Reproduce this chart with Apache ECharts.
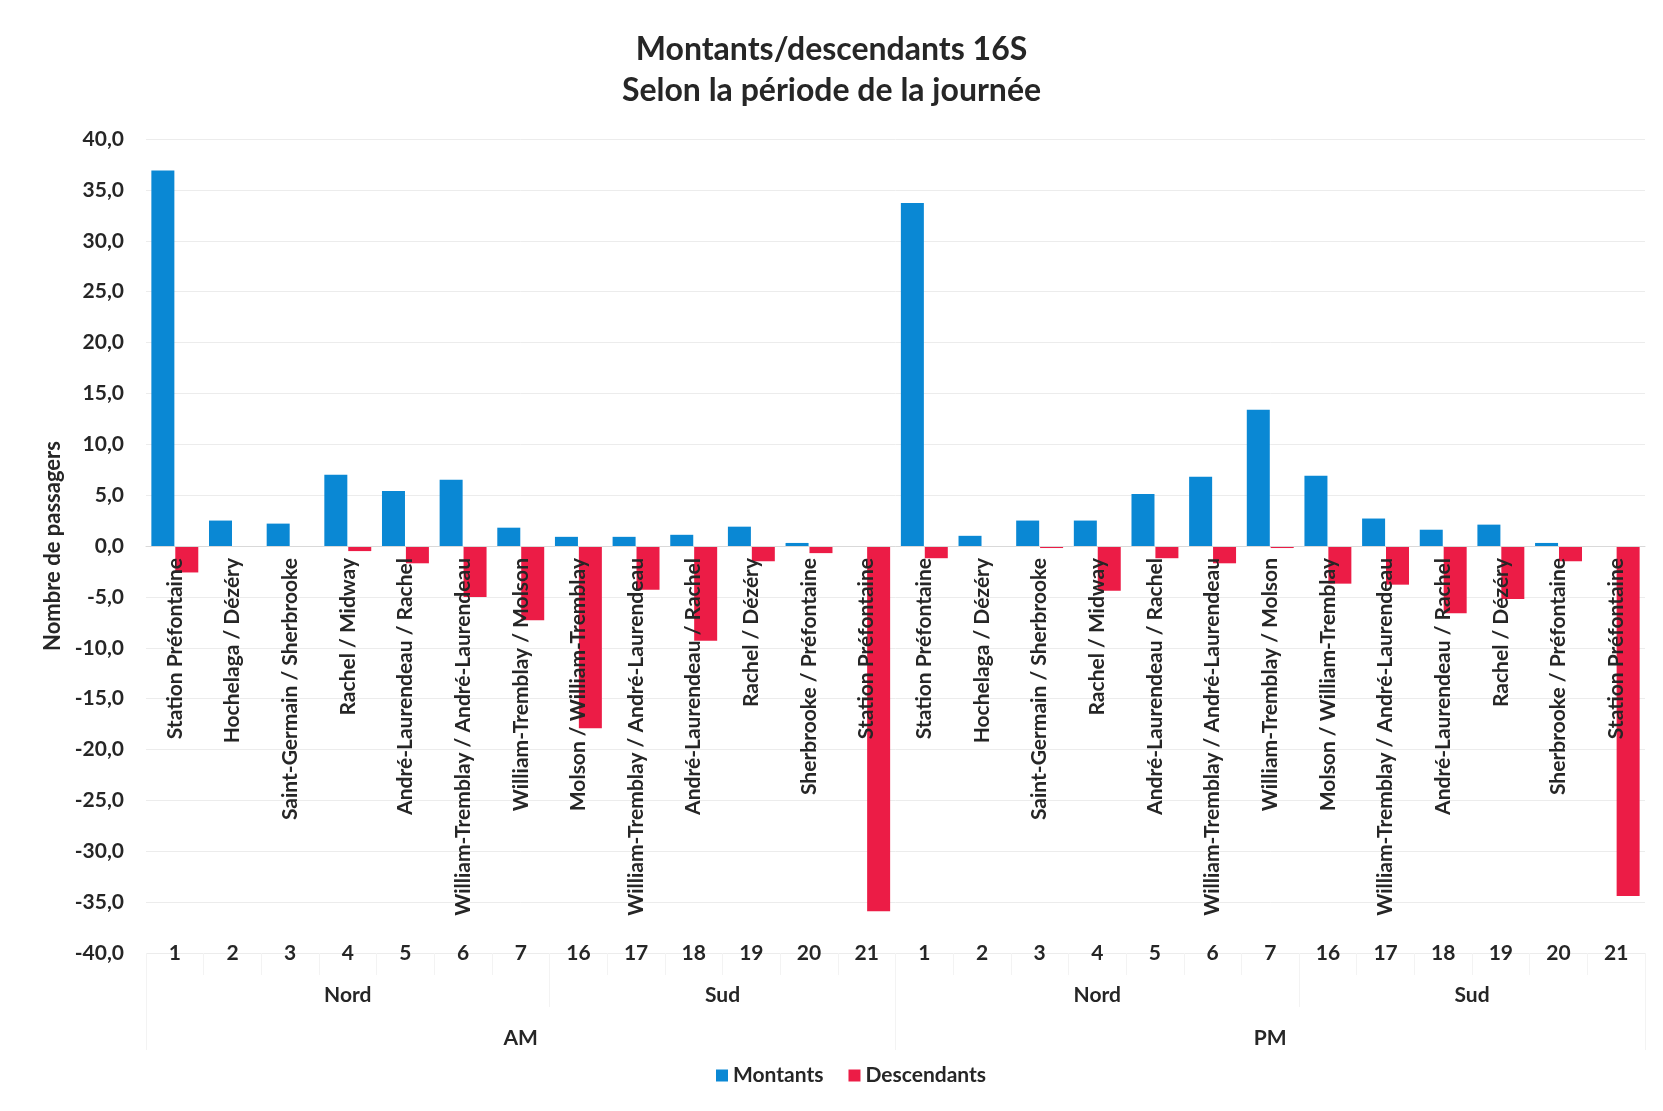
<!DOCTYPE html>
<html lang="fr">
<head>
    <meta charset="UTF-8">
    <title>Montants/descendants 16S</title>
    <script src="https://cdn.jsdelivr.net/npm/echarts@6/dist/echarts.min.js"></script>
    <style>
        body { margin: 0; background: #fff; }
    </style>
</head>
<body>
    <div id="chart_div" style="width: 1663px; height: 1111px;"></div>
</body>
    <script type="text/javascript">

       // arrets (niveau 1), numeros (niveau 2), direction (niveau 3), periode (niveau 4)
       var arrets = [
           'Station Préfontaine', 'Hochelaga / Dézéry', 'Saint-Germain / Sherbrooke', 'Rachel / Midway',
           'André-Laurendeau / Rachel', 'William-Tremblay / André-Laurendeau', 'William-Tremblay / Molson',
           'Molson / William-Tremblay', 'William-Tremblay / André-Laurendeau', 'André-Laurendeau / Rachel',
           'Rachel / Dézéry', 'Sherbrooke / Préfontaine', 'Station Préfontaine',
           'Station Préfontaine', 'Hochelaga / Dézéry', 'Saint-Germain / Sherbrooke', 'Rachel / Midway',
           'André-Laurendeau / Rachel', 'William-Tremblay / André-Laurendeau', 'William-Tremblay / Molson',
           'Molson / William-Tremblay', 'William-Tremblay / André-Laurendeau', 'André-Laurendeau / Rachel',
           'Rachel / Dézéry', 'Sherbrooke / Préfontaine', 'Station Préfontaine'
       ];
       var numeros = ['1','2','3','4','5','6','7','16','17','18','19','20','21',
                      '1','2','3','4','5','6','7','16','17','18','19','20','21'];
       var directions = ['Nord', 'Sud', 'Nord', 'Sud'];
       var directionTailles = [7, 6, 7, 6];
       var periodes = ['AM', 'PM'];
       var periodeTailles = [13, 13];

       var montants = [36.9, 2.5, 2.2, 7.0, 5.4, 6.5, 1.8, 0.9, 0.9, 1.1, 1.9, 0.3, 0,
                       33.7, 1.0, 2.5, 2.5, 5.1, 6.8, 13.4, 6.9, 2.7, 1.6, 2.1, 0.3, 0];
       var descendants = [-2.6, 0, 0, -0.5, -1.7, -5.0, -7.3, -17.9, -4.3, -9.3, -1.5, -0.7, -35.9,
                          -1.2, 0, -0.2, -4.4, -1.2, -1.7, -0.2, -3.7, -3.8, -6.6, -5.2, -1.5, -34.4];

       var police = 'Lato, "Noto Sans", sans-serif';
       var texte = '#262626';

       var grille = {left: 146, right: 18, top: 139, bottom: 158};
       var hauteurGrille = 1111 - grille.top - grille.bottom;

       // centres et limites des groupes, en unites de categories
       function groupes(tailles) {
           var centres = [], bornes = [0], pos = 0;
           for (var i = 0; i < tailles.length; i++) {
               centres.push(pos + tailles[i] / 2);
               pos += tailles[i];
               bornes.push(pos);
           }
           return {centres: centres, bornes: bornes};
       }
       var gDir = groupes(directionTailles);
       var gPer = groupes(periodeTailles);

       function axeGroupe(noms, g, marge) {
           return {
               type: 'value', gridIndex: 0, position: 'bottom',
               min: 0, max: arrets.length,
               axisLine: {show: false, onZero: false},
               splitLine: {show: false},
               axisTick: {show: true, customValues: g.bornes, length: marge + 12,
                          lineStyle: {color: '#f3f3f3'}},
               axisLabel: {
                   customValues: g.centres, margin: marge, verticalAlign: 'middle',
                   fontFamily: police, fontWeight: 'bold', fontSize: 21, color: texte,
                   formatter: function (v) {
                       var i = g.centres.indexOf(v);
                       return i >= 0 ? noms[i] : '';
                   }
               }
           };
       }

       var chart = echarts.init(document.getElementById("chart_div"));
       var options = {
            backgroundColor: '#ffffff',
            title : {
                text: 'Montants/descendants 16S\nSelon la période de la journée',
                left: 'center',
                top: 24,
                textStyle: {
                    fontFamily: police, fontWeight: 'bold', fontSize: 32,
                    lineHeight: 41, color: texte
                }
            },
            legend: {
                bottom: 20,
                left: 711,
                icon: 'rect',
                itemWidth: 12,
                itemHeight: 12,
                itemGap: 25,
                textStyle: {fontFamily: police, fontWeight: 'bold', fontSize: 21, color: texte},
                data: ['Montants', 'Descendants']
            },
            grid: {
                left: grille.left, right: grille.right, top: grille.top, bottom: grille.bottom,
                containLabel: false, outerBoundsMode: 'none'
            },
            xAxis: [
                {
                    // libelles des arrets, poses sur la ligne du zero
                    type: 'category', data: arrets, z: 10,
                    position: 'bottom', offset: -hauteurGrille / 2,
                    axisLine: {onZero: false, lineStyle: {color: '#d9d9d9'}},
                    axisTick: {show: false},
                    axisLabel: {
                        interval: 0, rotate: 90, margin: 12,
                        fontFamily: police, fontWeight: 'bold', fontSize: 21, color: texte
                    }
                },
                {
                    type: 'category', data: numeros, position: 'bottom',
                    axisLine: {show: false, onZero: false},
                    axisTick: {show: true, length: 22, lineStyle: {color: '#f3f3f3'}},
                    axisLabel: {
                        interval: 0, margin: 0, verticalAlign: 'middle',
                        fontFamily: police, fontWeight: 'bold', fontSize: 21, color: texte
                    }
                },
                axeGroupe(directions, gDir, 42),
                axeGroupe(periodes, gPer, 85)
            ],
            yAxis: {
                type: 'value',
                min: -40, max: 40, interval: 5,
                name: 'Nombre de passagers',
                nameLocation: 'middle',
                nameGap: 80,
                nameTextStyle: {fontFamily: police, fontWeight: 'bold', fontSize: 22, color: texte},
                axisLine: {show: false, onZero: false},
                axisTick: {show: false},
                splitLine: {lineStyle: {color: '#ececec'}},
                axisLabel: {
                    margin: 22,
                    fontFamily: police, fontWeight: 'bold', fontSize: 21, color: texte,
                    formatter: function (v) { return v.toFixed(1).replace('.', ','); }
                }
            },
            series : [
                {
                    name: 'Montants', type: 'bar', data: montants,
                    barWidth: 23, barGap: '4%',
                    itemStyle: {color: '#0a88d4'}
                },
                {
                    name: 'Descendants', type: 'bar', data: descendants,
                    barWidth: 23, barGap: '4%',
                    itemStyle: {color: '#ec1c46'}
                }
            ]
       };

       chart.setOption(options);

    </script>
</html>
